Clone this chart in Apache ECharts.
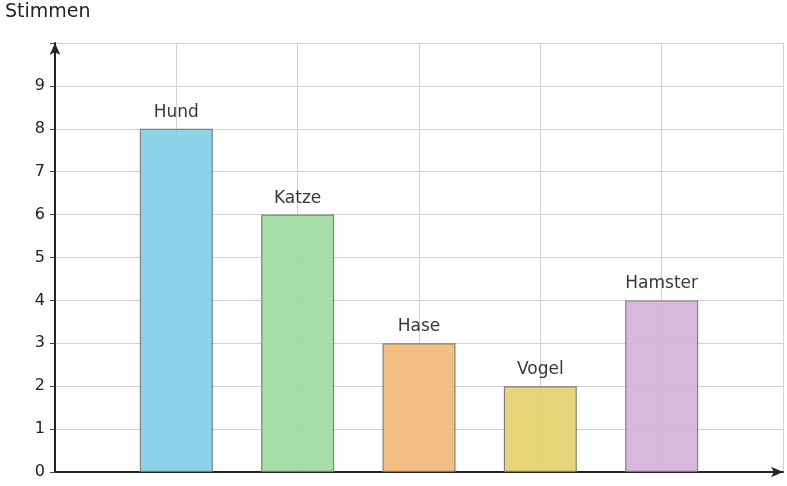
<!DOCTYPE html>
<html><head><meta charset="utf-8">
<script src="https://cdn.jsdelivr.net/npm/echarts@6/dist/echarts.min.js"></script>
<style>html,body{margin:0;padding:0;background:#fff}#c{width:787px;height:486px}</style>
</head><body><div id="c"></div>
<script>
const categories = ["Hund","Katze","Hase","Vogel","Hamster"];
const values = [8,6,3,2,4];
const colors = ["#7fcfea","#9bdc9b","#f4b877","#e5d06a","#d5b0da"];
const yTicks = [0,1,2,3,4,5,6,7,8,9];
const chart = echarts.init(document.getElementById('c'));
const font = "DejaVu Sans";
chart.setOption({
  animation:false,
  grid:{left:55,right:4,top:43,bottom:14},
  xAxis:{type:'value',min:0,max:6,interval:1,
    axisLine:{lineStyle:{color:'#222',width:2},symbol:['none','arrow'],symbolSize:[8,12]},
    axisTick:{show:false},axisLabel:{show:false},
    splitLine:{show:true,lineStyle:{color:'#d0d0d0',width:1}}},
  yAxis:{type:'value',min:0,max:10,interval:1,
    axisLine:{show:true,lineStyle:{color:'#222',width:2},symbol:['none','arrow'],symbolSize:[8,12]},
    axisTick:{show:true,inside:false,length:5,lineStyle:{color:'#444'}},
    axisLabel:{fontFamily:font,fontSize:16,color:'#222',margin:10,
      formatter:v=>yTicks.includes(v)?String(v):''},
    splitLine:{show:true,lineStyle:{color:'#d0d0d0',width:1}}},
  graphic:[{type:'text',left:5,top:3,style:{text:'Stimmen',fontFamily:font,fontSize:19,fill:'#222'}}],
  series:[{type:'bar',barWidth:73,
    data:values.map((v,i)=>({value:[i+1,v],name:categories[i],
      itemStyle:{color:colors[i],opacity:0.9,borderColor:'#777',borderWidth:1.2}})),
    label:{show:true,position:'top',distance:8,formatter:p=>p.name,fontFamily:font,fontSize:17,color:'#222'}}]
});
</script></body></html>
